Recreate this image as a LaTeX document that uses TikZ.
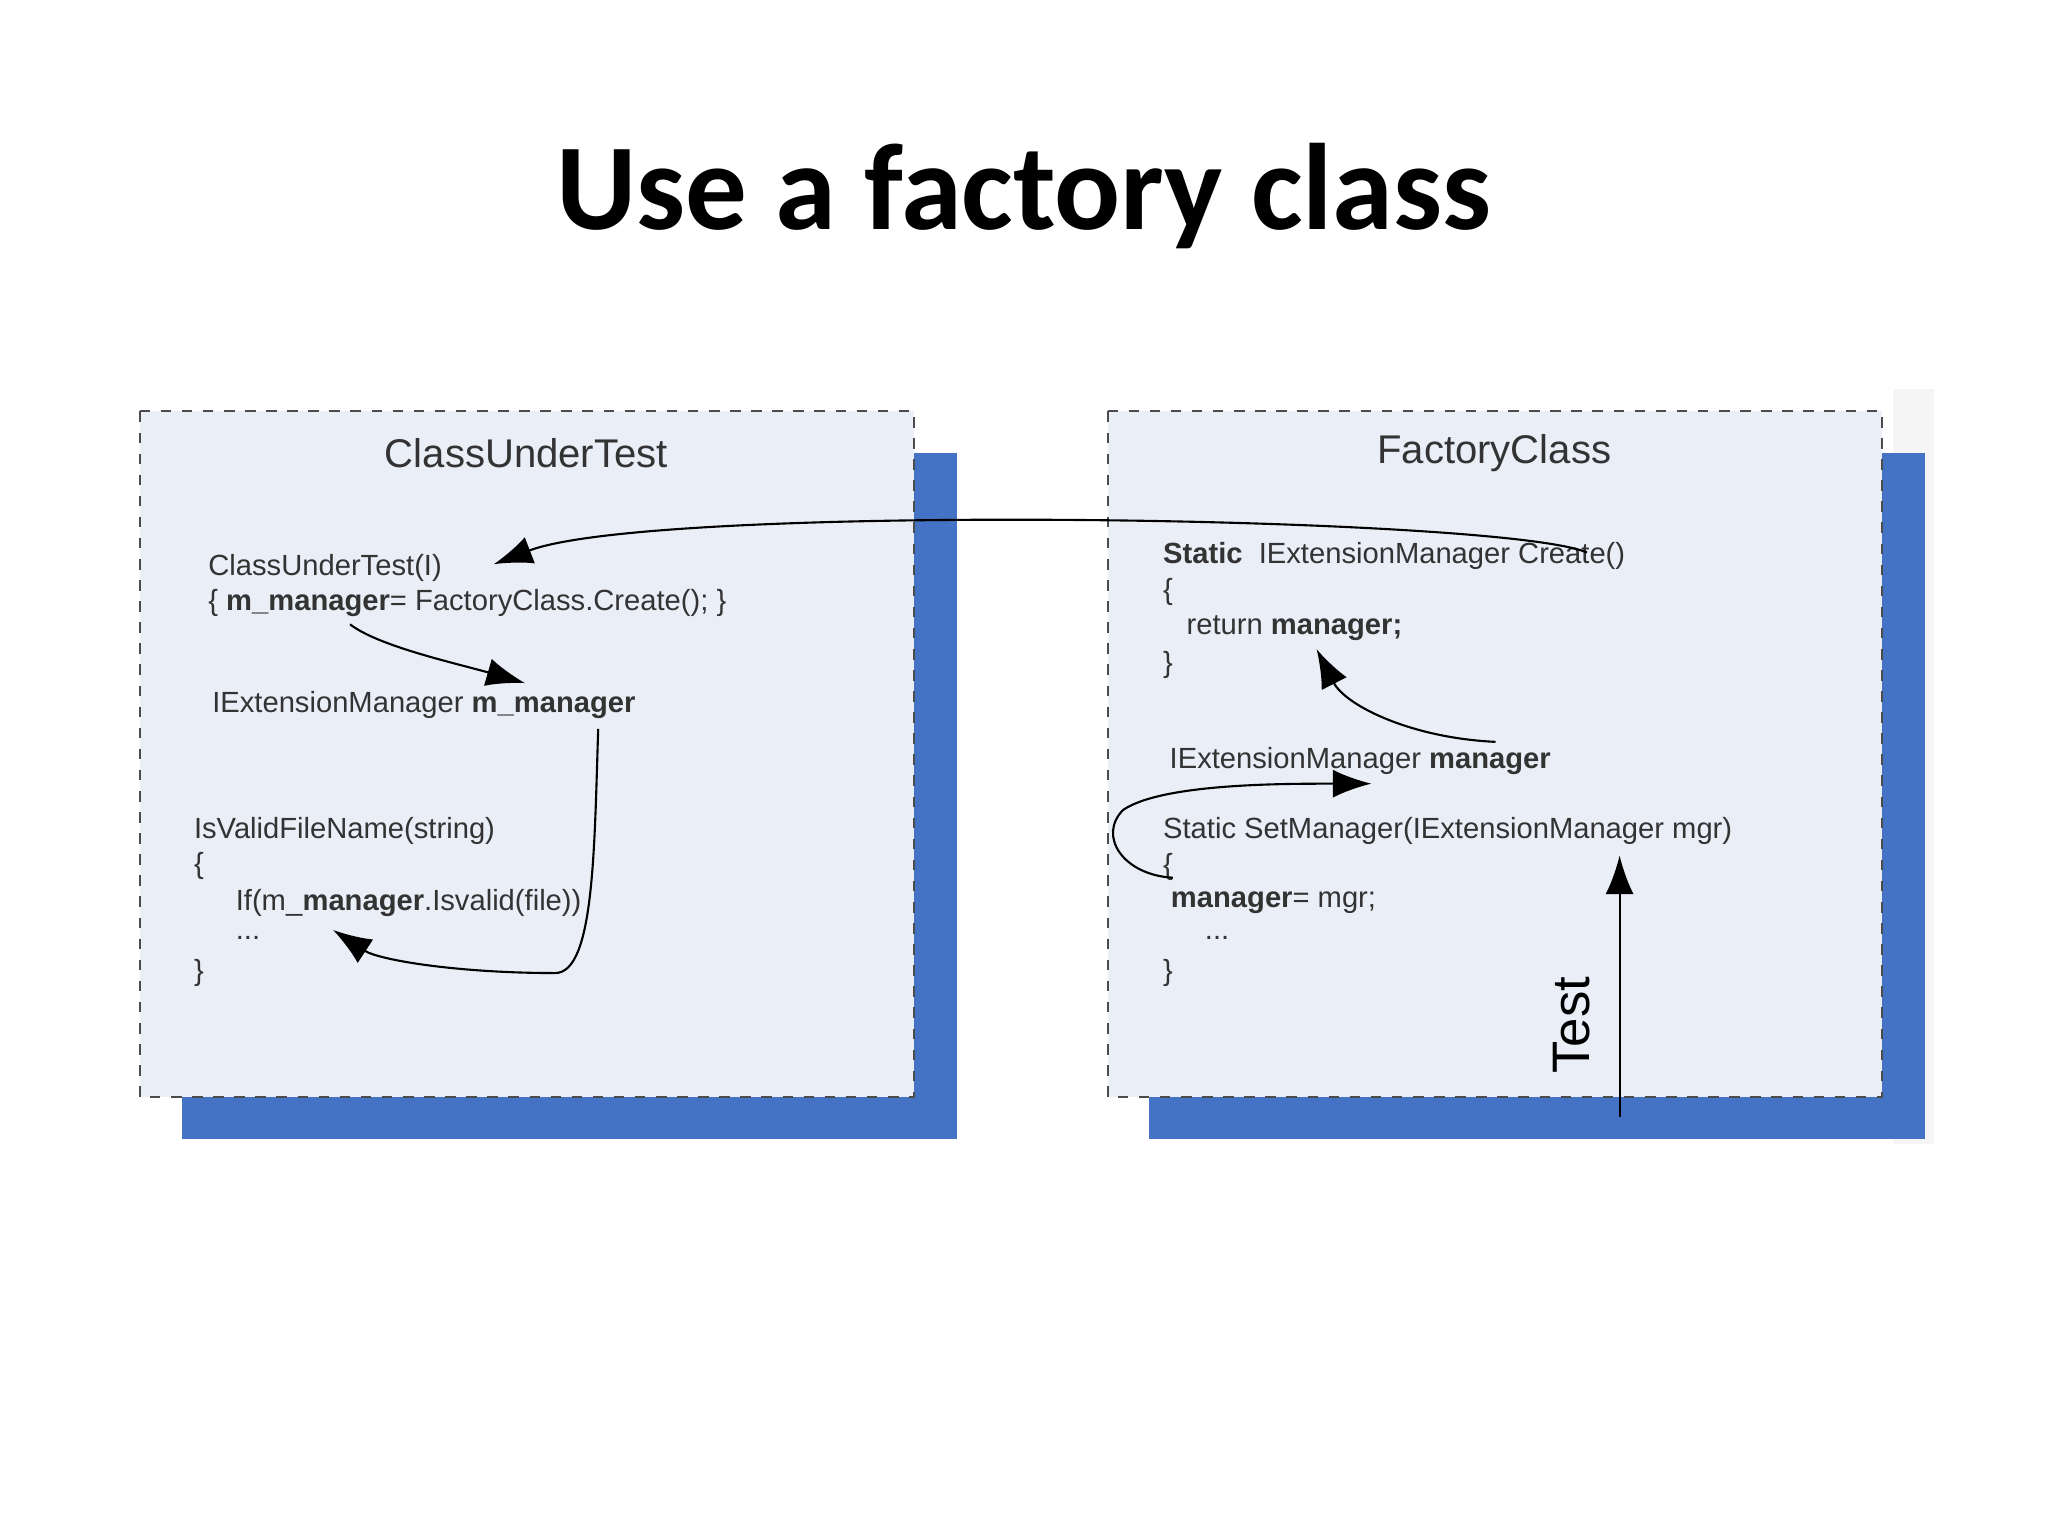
\documentclass[tikz,border=0pt]{standalone}
\usepackage{fontspec}
\setmainfont{Liberation Sans}
\newfontfamily\titlefont{Carlito}
\usetikzlibrary{arrows.meta}
\definecolor{boxfill}{HTML}{E9EEF7}
\definecolor{shadow}{HTML}{4472C4}
\begin{document}
\begin{tikzpicture}[x=0.01306cm,y=-0.01306cm,
  code/.style={anchor=west,inner sep=0pt,font=\fontsize{8.3pt}{10pt}\selectfont,text=black!80},
  hdr/.style={inner sep=0pt,font=\fontsize{11.4pt}{13pt}\selectfont,text=black!80},
  box/.style={draw=black!70,dashed,line width=0.6pt,fill=boxfill},
  arr/.style={line width=0.6pt,-{Latex[length=11pt,width=8pt]}}]
\useasboundingbox (0,0) rectangle (1568,1176);
\fill[white] (0,0) rectangle (1568,1176);
\node[font=\titlefont\bfseries\fontsize{35pt}{40pt}\selectfont] (title) at (784,150) {Use a factory class};
% left box
\fill[shadow] (139,347) rectangle (733,872);
\draw[box] (107,315) rectangle (700,840);
% right box
\fill[black!4] (1449,298) rectangle (1481,876);
\fill[shadow] (880,347) rectangle (1474,872);
\draw[box] (848,315) rectangle (1441,840);
\node[hdr] (h1) at (403,347) {ClassUnderTest};
\node[hdr] (h2) at (1144,347) {FactoryClass};
% left texts
\node[code] (c1) at (159,435) {ClassUnderTest(I)};
\node[code] (c2) at (159,462) {\{ \textbf{m\_manager}= FactoryClass.Create(); \}};
\node[code] (c3) at (162,540) {IExtensionManager \textbf{m\_manager}};
\node[code] (c4) at (148,636) {IsValidFileName(string)};
\node[code] (c5) at (148,663) {\{};
\node[code] (c6) at (180,691) {If(m\_\textbf{manager}.Isvalid(file))};
\node[code] (c7) at (180,718) {...};
\node[code] (c8) at (148,745) {\}};
% right texts
\node[code] (r1) at (890,426) {\textbf{Static}\ \ IExtensionManager Create()};
\node[code] (r2) at (890,453) {\{};
\node[code] (r3) at (908,481) {return \textbf{manager;}};
\node[code] (r4) at (890,509) {\}};
\node[code] (r5) at (895,583) {IExtensionManager \textbf{manager}};
\node[code] (r6) at (890,636) {Static SetManager(IExtensionManager mgr)};
\node[code] (r7) at (890,664) {\{};
\node[code] (r8) at (896,691) {\textbf{manager}= mgr;};
\node[code] (r9) at (922,718) {...};
\node[code] (r10) at (890,745) {\}};
\node[rotate=90,inner sep=0pt,font=\fontsize{15pt}{18pt}\selectfont] (test) at (1203,785) {Test};
% connectors
\coordinate (a1s) at (1215,423);
\coordinate (a1e) at (378,432);
\draw[arr] (a1s) .. controls (1150,395) and (500,385) .. (a1e);
\coordinate (a2s) at (268,478);
\coordinate (a2e) at (402,523);
\draw[arr] (a2s) .. controls (290,495) and (350,508) .. (a2e);
\coordinate (a3s) at (458,558);
\coordinate (a3e) at (255,712);
\draw[arr] (a3s) .. controls (455,650) and (455,745) .. (425,745) .. controls (350,745) and (290,735) .. (a3e);
\coordinate (a4s) at (1145,568);
\coordinate (a4e) at (1008,497);
\draw[arr] (a4s) .. controls (1080,565) and (1030,540) .. (a4e);
\coordinate (a5s) at (898,672);
\coordinate (a5e) at (1050,600);
\draw[arr] (a5s) .. controls (860,670) and (840,640) .. (860,620) .. controls (890,600) and (980,600) .. (a5e);
\coordinate (a6s) at (1240,855);
\coordinate (a6e) at (1240,655);
\draw[arr] (a6s) -- (a6e);
\end{tikzpicture}
\end{document}
